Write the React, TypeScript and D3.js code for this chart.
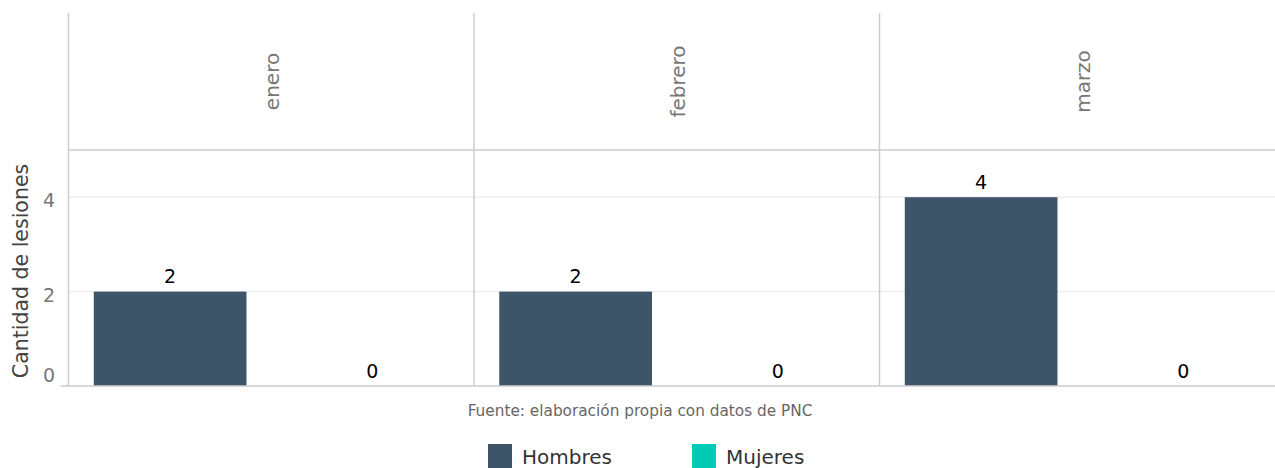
import React from 'react';
import * as d3 from 'd3';

const months = ['enero', 'febrero', 'marzo'];
const sexes = ['Hombres', 'Mujeres'];
const hombres = [2, 2, 4];
const mujeres = [0, 0, 0];
const yTicks = [0, 2, 4];
const caption = 'Fuente: elaboración propia con datos de PNC';
const yTitle = 'Cantidad de lesiones';

const colors: Record<string, string> = { Hombres: '#3e5468', Mujeres: '#00ccb5' };
const font = '"DejaVu Sans", Verdana, sans-serif';

export default function App() {
  const width = 1275;
  const height = 468;
  const left = 68.5;
  const panelW = 405.5;
  const stripTop = 13;
  const panelTop = 150;
  const panelBottom = 386;

  const facet = d3.scaleBand<string>().domain(months).range([left, left + panelW * months.length]);
  const x = d3.scaleBand<string>().domain(sexes).range([0, panelW]).paddingInner(0.245).paddingOuter(0.125);
  const y = d3.scaleLinear().domain([0, 5]).range([panelBottom, panelTop]);
  const right = left + panelW * months.length;

  const series: Record<string, number[]> = { Hombres: hombres, Mujeres: mujeres };

  return (
    <svg width={width} height={height} style={{ position: 'absolute', left: 0, top: 0, fontFamily: font }}>
      <rect width={width} height={height} fill="#fff" />
      {/* gridlines */}
      {yTicks.filter(t => t > 0).map(t => (
        <line key={t} x1={left} x2={right} y1={y(t)} y2={y(t)} stroke="#eeeeee" strokeWidth={1.5} />
      ))}
      {/* bars */}
      {months.map((m, i) => (
        <g key={m} transform={`translate(${facet(m)},0)`}>
          {sexes.map(s => {
            const v = series[s][i];
            const bx = x(s)!;
            return (
              <g key={s}>
                <rect x={bx} y={y(v)} width={x.bandwidth()} height={y(0) - y(v)} fill={colors[s]} />
                <text x={bx + x.bandwidth() / 2} y={y(v) - 8.5} textAnchor="middle" fontSize={19} fill="#000">{v}</text>
              </g>
            );
          })}
          <text
            transform={`translate(${panelW / 2 + 8},${(stripTop + panelTop) / 2}) rotate(-90)`}
            textAnchor="middle"
            fontSize={20}
            fill="#777"
          >{m}</text>
        </g>
      ))}
      {/* panel borders */}
      {months.map(m => (
        <line key={m} x1={facet(m)!} x2={facet(m)!} y1={stripTop} y2={panelBottom} stroke="#cccccc" strokeWidth={1.5} />
      ))}
      <line x1={left} x2={right} y1={panelTop} y2={panelTop} stroke="#cccccc" strokeWidth={1.5} />
      <line x1={left - 8} x2={right} y1={panelBottom} y2={panelBottom} stroke="#cccccc" strokeWidth={1.5} />
      {/* y axis */}
      {yTicks.map(t => (
        <text key={t} x={55} y={Math.min(y(t) + 10, y(0) - 4.5)} textAnchor="end" fontSize={19} fill="#777">{t}</text>
      ))}
      <text transform={`translate(28,${(panelTop + panelBottom) / 2 + 3}) rotate(-90)`} textAnchor="middle" fontSize={20.5} fill="#444">{yTitle}</text>
      {/* caption */}
      <text x={640} y={416} textAnchor="middle" fontSize={15.3} fill="#666">{caption}</text>
      {/* legend */}
      {sexes.map((s, i) => (
        <g key={s} transform={`translate(${488 + i * 204},444)`}>
          <rect width={24} height={24} fill={colors[s]} />
          <text x={34} y={20} fontSize={20} fill="#333">{s}</text>
        </g>
      ))}
    </svg>
  );
}
